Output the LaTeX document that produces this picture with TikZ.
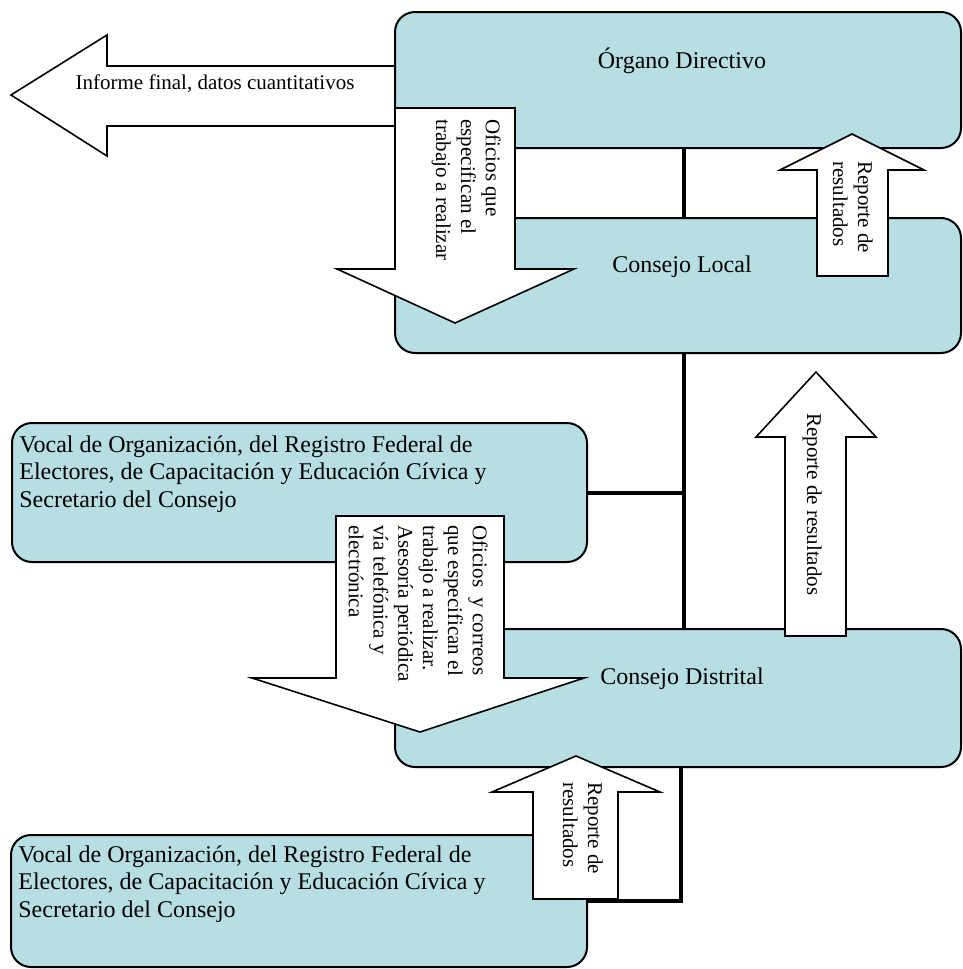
\documentclass[tikz,border=0pt]{standalone}
\usepackage{fontspec}
\setmainfont{Liberation Serif}
\definecolor{boxfill}{RGB}{183,223,227}
\tikzset{box/.style={draw,line width=1pt,fill=boxfill,rounded corners=10pt},
         boxtext/.style={inner sep=0pt,font=\fontsize{12}{13.8}\selectfont},
         vocaltext/.style={boxtext,align=left,anchor=north west},
         trunkline/.style={draw,line width=2pt},
         blockarrow/.style={draw,line width=0.8pt,fill=white,line join=miter},
         arrowtext/.style={inner sep=0pt,font=\fontsize{10.5}{12.4}\selectfont},
         turned/.style={arrowtext,rotate=-90,anchor=north west,align=left}}
\begin{document}
\begin{tikzpicture}[x=0.5pt,y=-0.5pt]
    \useasboundingbox (0,0) rectangle (963,969);
    % boxes
    \node[box,minimum width=283pt,minimum height=68pt] (organo) at (678,80) {};
    \node[box,minimum width=283pt,minimum height=67.5pt] (local) at (678,285.5) {};
    \node[box,minimum width=283pt,minimum height=69pt] (distrital) at (678,698) {};
    \node[box,minimum width=287.5pt,minimum height=69.5pt] (vocalA) at (299.5,492.5) {};
    \node[box,minimum width=288pt,minimum height=66pt] (vocalB) at (299,901) {};
    \node[boxtext] (organotxt) at ([xshift=2pt,yshift=-25pt]organo.north) {Órgano Directivo};
    \node[boxtext] (localtxt) at ([xshift=2pt,yshift=-25pt]local.north) {Consejo Local};
    \node[boxtext] (distritaltxt) at ([xshift=2pt,yshift=-25.5pt]distrital.north) {Consejo Distrital};
    \node[vocaltext] (vocalAtxt) at ([xshift=4pt,yshift=-6.5pt]vocalA.north west)
        {Vocal de Organización, del Registro Federal de\\Electores, de Capacitación y Educación Cívica y\\Secretario del Consejo};
    \node[vocaltext] (vocalBtxt) at ([xshift=4pt,yshift=-5.5pt]vocalB.north west)
        {Vocal de Organización, del Registro Federal de\\Electores, de Capacitación y Educación Cívica y\\Secretario del Consejo};
    % connectors
    \coordinate (trunk) at ([xshift=3pt]local.south);
    \draw[trunkline] ([xshift=3pt]organo.south) -- ([xshift=3pt]local.north);
    \draw[trunkline] (trunk) -- (trunk |- distrital.north);
    \draw[trunkline] (vocalA.east) -- (vocalA.east -| trunk);
    \draw[trunkline] ([xshift=1.5pt]distrital.south) |- (vocalB.east);
    % block arrows
    \draw[blockarrow] (395,66) -- (107,66) -- (107,35) -- (11,95) -- (107,156) -- (107,126) -- (395,126) -- cycle;
    \draw[blockarrow] (395,108) -- (515,108) -- (515,269) -- (574,269) -- (455,323) -- (337,269) -- (395,269) -- cycle;
    \draw[blockarrow] (817,276) -- (817,170) -- (780,170) -- (852,134) -- (924,170) -- (888,170) -- (888,276) -- cycle;
    \draw[blockarrow] (785,636) -- (785,437) -- (756,437) -- (816,372) -- (876,437) -- (846,437) -- (846,636) -- cycle;
    \draw[blockarrow] (336,516) -- (504,516) -- (504,678) -- (584,678) -- (420,732) -- (252,678) -- (336,678) -- cycle;
    \draw[blockarrow] (533,899) -- (533,792) -- (492,792) -- (576,756) -- (660,792) -- (618,792) -- (618,899) -- cycle;
    \node[arrowtext] (informe) at (215,84) {Informe final, datos cuantitativos};
    \node[turned] (oficiosA) at (501,119) {Oficios que\\especifican el\\trabajo a realizar};
    \node[turned] (reporteA) at (873,161) {Reporte de\\resultados};
    \node[turned] (reporteB) at (822,413) {Reporte de resultados};
    \node[turned] (oficiosB) at (488,525)
        {Oficios\ \ y correos\\que especifican el\\trabajo a realizar.\\Asesoría periódica\\vía telefónica y\\electrónica};
    \node[turned] (reporteC) at (603,782) {Reporte de\\resultados};
\end{tikzpicture}
\end{document}
